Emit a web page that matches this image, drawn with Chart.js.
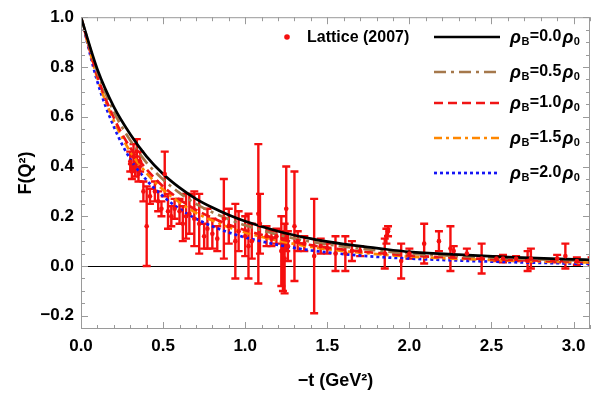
<!DOCTYPE html>
<html>
<head>
<meta charset="utf-8">
<script src="https://cdn.jsdelivr.net/npm/chart.js@4.4.1/dist/chart.umd.min.js"></script>
<style>
  body { margin: 0; background: #fff; }
  #wrap { width: 594px; height: 398px; }
</style>
</head>
<body>
<div id="wrap"><canvas id="ff_chart"></canvas></div>
<script>
// curve samples, -t in GeV^2
var curveX = [0, 0.1, 0.2, 0.3, 0.4, 0.5, 0.6, 0.7, 0.8, 0.9, 1.0, 1.2, 1.4, 1.6, 1.8, 2.0, 2.3, 2.6, 3.0, 3.1];
var rho00 = [1.0, 0.79, 0.64, 0.53, 0.44, 0.37, 0.315, 0.27, 0.235, 0.205, 0.18, 0.14, 0.11, 0.088, 0.072, 0.057, 0.046, 0.036, 0.027, 0.025];
var rho05 = [1.0, 0.78, 0.62, 0.505, 0.415, 0.348, 0.294, 0.25, 0.216, 0.188, 0.164, 0.126, 0.098, 0.078, 0.063, 0.05, 0.04, 0.031, 0.023, 0.021];
var rho10 = [1.0, 0.763, 0.596, 0.475, 0.388, 0.32, 0.268, 0.226, 0.194, 0.166, 0.144, 0.11, 0.084, 0.066, 0.053, 0.042, 0.033, 0.025, 0.018, 0.016];
var rho15 = [1.0, 0.755, 0.584, 0.46, 0.373, 0.307, 0.256, 0.214, 0.183, 0.156, 0.135, 0.102, 0.077, 0.06, 0.048, 0.038, 0.029, 0.022, 0.015, 0.014];
var rho20 = [1.0, 0.74, 0.56, 0.43, 0.345, 0.28, 0.23, 0.19, 0.16, 0.135, 0.115, 0.085, 0.063, 0.048, 0.037, 0.03, 0.022, 0.016, 0.01, 0.009];

// lattice (2007) points
var lattX = [0.30, 0.31, 0.32, 0.33, 0.34, 0.35, 0.36, 0.38, 0.40, 0.42, 0.45, 0.47, 0.49, 0.51, 0.53, 0.55, 0.57, 0.60, 0.62, 0.64,
             0.66, 0.69, 0.72, 0.75, 0.77, 0.80, 0.83, 0.87, 0.90, 0.94, 0.96, 1.00, 1.02, 1.04, 1.08, 1.09, 1.13, 1.16, 1.19, 1.22,
             1.23, 1.24, 1.25, 1.26, 1.30, 1.32, 1.36, 1.42, 1.46, 1.50, 1.55, 1.61, 1.65, 1.70, 1.85, 1.86, 1.87, 1.95, 2.00, 2.09,
             2.18, 2.25, 2.27, 2.35, 2.44, 2.53, 2.57, 2.65, 2.72, 2.74, 2.90, 2.95, 3.02, 3.11];
var lattY = [0.42, 0.38, 0.44, 0.40, 0.46, 0.37, 0.42, 0.30, 0.16, 0.28, 0.30, 0.26, 0.23, 0.37, 0.22, 0.20, 0.23, 0.22, 0.17, 0.20,
             0.21, 0.19, 0.17, 0.12, 0.15, 0.13, 0.11, 0.19, 0.16, 0.10, 0.14, 0.12, 0.08, 0.10, 0.21, 0.17, 0.12, 0.11, 0.12, 0.06,
             0.02, 0.03, 0.23, 0.08, 0.16, 0.10, 0.09, 0.04, 0.08, 0.07, 0.05, 0.05, 0.06, 0.06, 0.05, 0.12, 0.14, 0.02, 0.05, 0.09,
             0.10, 0.07, 0.06, 0.05, 0.03, 0.03, 0.03, 0.03, 0.02, 0.03, 0.03, 0.04, 0.02, 0.02];
var lattErr = [0.04, 0.03, 0.05, 0.04, 0.05, 0.03, 0.04, 0.04, 0.16, 0.03, 0.04, 0.04, 0.03, 0.09, 0.07, 0.04, 0.04, 0.05, 0.07, 0.09,
               0.08, 0.11, 0.12, 0.05, 0.08, 0.06, 0.05, 0.16, 0.07, 0.15, 0.08, 0.08, 0.13, 0.07, 0.28, 0.12, 0.04, 0.03, 0.03, 0.14,
               0.12, 0.14, 0.17, 0.06, 0.22, 0.04, 0.03, 0.23, 0.03, 0.02, 0.07, 0.07, 0.04, 0.02, 0.06, 0.03, 0.02, 0.07, 0.02, 0.08,
               0.04, 0.09, 0.02, 0.02, 0.06, 0.01, 0.015, 0.01, 0.04, 0.04, 0.015, 0.05, 0.015, 0.015];

var xTicks = [0, 0.5, 1.0, 1.5, 2.0, 2.5, 3.0];
var yTicks = [-0.2, 0, 0.2, 0.4, 0.6, 0.8, 1.0];

var series = [
    { label: '0.0', data: rho00, color: '#000000', dash: [] },
    { label: '0.5', data: rho05, color: 'rgb(165, 120, 75)', dash: [12, 5, 3, 5] },
    { label: '1.0', data: rho10, color: 'rgb(240, 20, 20)', dash: [9, 5] },
    { label: '1.5', data: rho15, color: 'rgb(255, 135, 0)', dash: [8, 4, 3, 4] },
    { label: '2.0', data: rho20, color: 'rgb(20, 20, 245)', dash: [3, 3] }
];

var RED = 'rgb(245, 15, 15)';
var FONT = "'Liberation Sans', Arial, sans-serif";

function pts(xs, ys) {
    return xs.map(function (x, i) { return { x: x, y: ys[i] }; });
}

function fmt(v) {
    var s = Math.abs(v).toFixed(1);
    return v < -1e-9 ? '\u2212' + s : s;
}

var datasets = [{
    label: 'Lattice (2007)',
    type: 'scatter',
    data: pts(lattX, lattY),
    pointRadius: 2.3,
    pointBackgroundColor: RED,
    pointBorderWidth: 0,
    showLine: false
}];
series.forEach(function (s) {
    datasets.push({
        label: s.label,
        type: 'line',
        data: pts(curveX, s.data),
        borderColor: s.color,
        borderWidth: 2.7,
        borderDash: s.dash,
        pointRadius: 0,
        fill: false,
        cubicInterpolationMode: 'monotone'
    });
});

var framePlugin = {
    id: 'frame',
    beforeDatasetsDraw: function (chart) {
        var ctx = chart.ctx, a = chart.chartArea;
        var xs = chart.scales.x, ys = chart.scales.y;
        ctx.save();
        // zero line
        var y0 = ys.getPixelForValue(0);
        ctx.strokeStyle = '#000';
        ctx.lineWidth = 1;
        ctx.beginPath();
        ctx.moveTo(a.left, Math.round(y0) + 0.5);
        ctx.lineTo(a.right, Math.round(y0) + 0.5);
        ctx.stroke();
        // error bars
        ctx.beginPath();
        ctx.rect(a.left, a.top, a.right - a.left, a.bottom - a.top);
        ctx.clip();
        ctx.strokeStyle = RED;
        ctx.lineWidth = 2.4;
        for (var i = 0; i < lattX.length; i++) {
            var px = xs.getPixelForValue(lattX[i]);
            var hi = ys.getPixelForValue(lattY[i] + lattErr[i]);
            var lo = ys.getPixelForValue(lattY[i] - lattErr[i]);
            ctx.beginPath();
            ctx.moveTo(px, hi); ctx.lineTo(px, lo);
            ctx.moveTo(px - 4, hi); ctx.lineTo(px + 4, hi);
            ctx.moveTo(px - 4, lo); ctx.lineTo(px + 4, lo);
            ctx.stroke();
        }
        ctx.restore();
    },
    afterDraw: function (chart) {
        var ctx = chart.ctx, a = chart.chartArea;
        var xs = chart.scales.x, ys = chart.scales.y;
        ctx.save();
        ctx.strokeStyle = '#9a9a9a';
        ctx.lineWidth = 1;
        ctx.strokeRect(a.left + 0.5, a.top + 0.5, a.right - a.left - 1, a.bottom - a.top - 1);
        ctx.beginPath();
        var v, p, len;
        for (v = 0; v <= 3.1 + 1e-9; v += 0.1) {
            p = Math.round(xs.getPixelForValue(v)) + 0.5;
            len = Math.abs(v / 0.5 - Math.round(v / 0.5)) < 1e-6 ? 7 : 4;
            ctx.moveTo(p, a.bottom); ctx.lineTo(p, a.bottom - len);
            ctx.moveTo(p, a.top); ctx.lineTo(p, a.top + len);
        }
        for (v = -0.25; v <= 1.0 + 1e-9; v += 0.05) {
            p = Math.round(ys.getPixelForValue(v)) + 0.5;
            len = Math.abs(v / 0.2 - Math.round(v / 0.2)) < 1e-6 ? 7 : 4;
            ctx.moveTo(a.left, p); ctx.lineTo(a.left + len, p);
            ctx.moveTo(a.right, p); ctx.lineTo(a.right - len, p);
        }
        ctx.stroke();

        // legend
        ctx.fillStyle = RED;
        ctx.beginPath();
        ctx.arc(287, 37, 2.8, 0, Math.PI * 2);
        ctx.fill();
        ctx.fillStyle = '#000';
        ctx.textBaseline = 'middle';
        ctx.font = 'bold 16px ' + FONT;
        ctx.fillText('Lattice (2007)', 307, 38);

        var rows = [37, 72, 103, 138, 173];
        series.forEach(function (s, i) {
            var y = rows[i];
            ctx.strokeStyle = s.color;
            ctx.lineWidth = 2.7;
            ctx.setLineDash(s.dash);
            ctx.beginPath();
            ctx.moveTo(434, y); ctx.lineTo(500, y);
            ctx.stroke();
            ctx.setLineDash([]);
            var x = 510;
            ctx.fillStyle = '#000';
            ctx.font = 'italic bold 18px ' + FONT;
            ctx.fillText('\u03c1', x, y + 1);
            x += ctx.measureText('\u03c1').width + 0.5;
            ctx.font = 'bold 11px ' + FONT;
            ctx.fillText('B', x, y + 5);
            x += ctx.measureText('B').width + 0.5;
            ctx.font = 'bold 16px ' + FONT;
            ctx.fillText('=' + s.label, x, y);
            x += ctx.measureText('=' + s.label).width + 1;
            ctx.font = 'italic bold 18px ' + FONT;
            ctx.fillText('\u03c1', x, y + 1);
            x += ctx.measureText('\u03c1').width + 0.5;
            ctx.font = 'bold 11px ' + FONT;
            ctx.fillText('0', x, y + 5);
        });
        ctx.restore();
    }
};

new Chart(document.getElementById('ff_chart').getContext('2d'), {
    type: 'scatter',
    data: { datasets: datasets },
    options: {
        responsive: true,
        maintainAspectRatio: false,
        animation: false,
        layout: { padding: { left: 11, right: 1, top: 12, bottom: 2 } },
        plugins: { legend: { display: false }, tooltip: { enabled: false } },
        scales: {
            x: {
                type: 'linear',
                min: 0,
                max: 3.1,
                afterBuildTicks: function (s) { s.ticks = xTicks.map(function (v) { return { value: v }; }); },
                afterFit: function (s) { s.height = 67; },
                grid: { display: false, drawTicks: false },
                border: { display: false },
                ticks: {
                    color: '#000', padding: 7, maxRotation: 0, autoSkip: false,
                    font: { family: FONT, size: 17, weight: 'bold' },
                    callback: function (v) { return fmt(v); }
                },
                title: {
                    display: true, text: '\u2212t (GeV\u00b2)', color: '#000',
                    font: { family: FONT, size: 18, weight: 'bold' },
                    padding: { top: 16 }
                }
            },
            y: {
                type: 'linear',
                min: -0.253,
                max: 1.0,
                afterBuildTicks: function (s) { s.ticks = yTicks.map(function (v) { return { value: v }; }); },
                afterFit: function (s) { s.width = 70; },
                grid: { display: false, drawTicks: false },
                border: { display: false },
                ticks: {
                    color: '#000', padding: 7, autoSkip: false,
                    font: { family: FONT, size: 17, weight: 'bold' },
                    callback: function (v) { return fmt(v); }
                },
                title: {
                    display: true, text: 'F(Q\u00b2)', color: '#000',
                    font: { family: FONT, size: 18, weight: 'bold' },
                    padding: { bottom: 0 }
                }
            }
        }
    },
    plugins: [framePlugin]
});
</script>
</body>
</html>
